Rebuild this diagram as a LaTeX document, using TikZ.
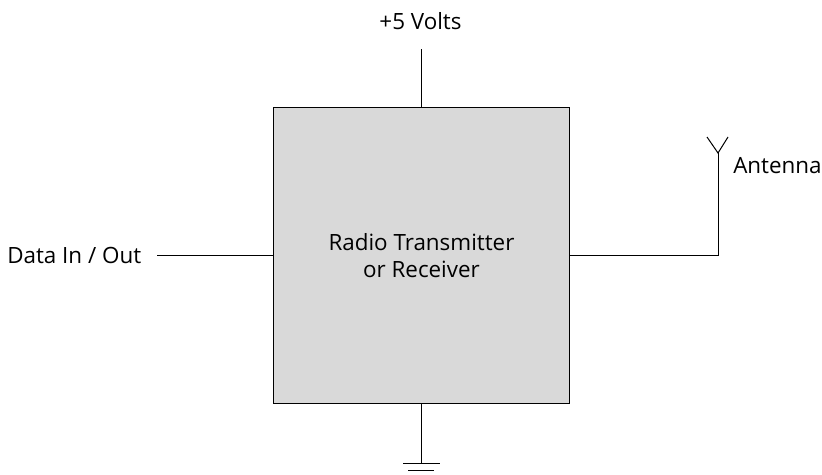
\documentclass[tikz,border=0pt]{standalone}
\usepackage{fontspec}
\setmainfont{Open Sans}
\usepackage{xcolor}
\usetikzlibrary{positioning}
\begin{document}
\begin{tikzpicture}[
    x=0.75pt, y=-0.75pt,
    radio/.style={rectangle, draw, fill=black!15, minimum width=222pt, minimum height=222pt, align=center, line width=0.75pt, font=\fontsize{16.8}{20}\selectfont},
    label/.style={inner sep=0pt, font=\fontsize{16.8}{20}\selectfont},
    wire/.style={line width=0.75pt}
]
\useasboundingbox (0,0) rectangle (822,475);

\node[radio] (radio) at (421.5,255.3) {Radio Transmitter\\or Receiver};

\node[label] (volts) at (420.5,21) {+5 Volts};
\node[label, anchor=west] (antenna) at (733,166) {Antenna};
\node[label, anchor=west] (data) at (7,255) {Data In / Out};

% Power and data lines
\coordinate (vtop) at (421.5,49);
\coordinate (dend) at (157,255.3);
\draw[wire] (vtop) -- (radio.north);
\draw[wire] (dend) -- (radio.west);

% Antenna
\coordinate (atip) at (718,153);
\coordinate (abend) at (718,255.3);
\draw[wire] (radio.east) -- (abend) -- (atip);
\draw[wire] (707,137) -- (atip) -- (728,137);

% Ground
\coordinate (gnd) at (421.5,463);
\draw[wire] (radio.south) -- (gnd);
\draw[wire] (403,463) -- (440,463);
\draw[wire] (408,470) -- (434,470);
\end{tikzpicture}
\end{document}
